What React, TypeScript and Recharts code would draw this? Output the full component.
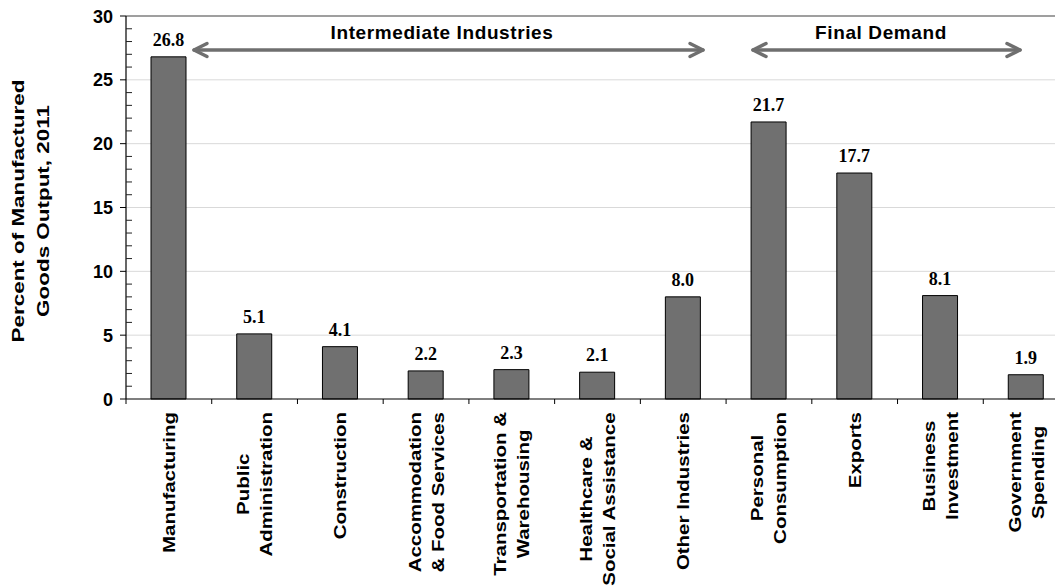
import React from "react";
import { BarChart, Bar, XAxis, YAxis, CartesianGrid, ReferenceLine, LabelList } from "recharts";

// Categories (line breaks mark the wrapped axis labels)
const categories = [
  "Manufacturing",
  "Public\nAdministration",
  "Construction",
  "Accommodation\n& Food Services",
  "Transportation &\nWarehousing",
  "Healthcare &\nSocial Assistance",
  "Other Industries",
  "Personal\nConsumption",
  "Exports",
  "Business\nInvestment",
  "Government\nSpending",
];

// Percent of manufactured goods output, 2011
const shares = [26.8, 5.1, 4.1, 2.2, 2.3, 2.1, 8.0, 21.7, 17.7, 8.1, 1.9];

const yTicks = Array.from({ length: 31 }, (_, i) => i);
const gridValues = [5, 10, 15, 20, 25];
const yAxisTitle = ["Percent  of Manufactured", "Goods  Output, 2011"];
const groupTitles = ["Intermediate  Industries", "Final  Demand"];

const data = categories.map((name, i) => ({ name, value: shares[i] }));

const SANS = "'Liberation Sans', Arial, sans-serif";
const SERIF = "'Liberation Serif', 'Times New Roman', serif";
const LABEL_FONT_SIZE = 16;
const LABEL_STRETCH = 1.28;

let measureCtx: CanvasRenderingContext2D | null = null;
function textWidth(s: string, size: number): number {
  if (!measureCtx) {
    const c = document.createElement("canvas");
    measureCtx = c.getContext("2d");
  }
  if (!measureCtx) return s.length * size * 0.6;
  measureCtx.font = `bold ${size}px 'Liberation Sans', Arial, sans-serif`;
  return measureCtx.measureText(s).width;
}

const X_TICK_SIZE = 5;
const X_TICK_MARGIN = 8;

function CategoryTick(props: any) {
  const { x, y, payload, index } = props;
  const half = payload && payload.offset ? payload.offset : 42.86;
  const axisY = y - X_TICK_SIZE - X_TICK_MARGIN;
  const lines = String(payload.value).split("\n");
  const lens = lines.map((l) => textWidth(l, LABEL_FONT_SIZE) * LABEL_STRETCH);
  const longest = Math.max(...lens);
  const mid = y + longest / 2;
  const n = lines.length;
  return (
    <g>
      {index === 0 && (
        <line x1={x - half} x2={x - half} y1={axisY} y2={axisY + 5} stroke="#000" strokeWidth={1} />
      )}
      <line x1={x + half} x2={x + half} y1={axisY} y2={axisY + 5} stroke="#000" strokeWidth={1} />
      {lines.map((line, i) => {
        const lx = x + (i - (n - 1) / 2) * 23 + 6;
        return (
          <text
            key={i}
            transform={`translate(${lx},${mid}) rotate(-90) scale(${LABEL_STRETCH},1)`}
            textAnchor="middle"
            fontFamily={SANS}
            fontWeight="bold"
            fontSize={LABEL_FONT_SIZE}
            fill="#000"
          >
            {line}
          </text>
        );
      })}
    </g>
  );
}

const Y_TICK_SIZE = 6;
const Y_TICK_MARGIN = 4;

function ValueTick(props: any) {
  const { x, y, payload } = props;
  const axisX = x + Y_TICK_SIZE + Y_TICK_MARGIN;
  const v = Number(payload.value);
  if (v % 5 === 0) {
    return (
      <g>
        <line x1={axisX - 6} x2={axisX} y1={y} y2={y} stroke="#000" strokeWidth={1} />
        <text x={axisX - 13} y={y + 6.5} textAnchor="end" fontFamily={SANS} fontWeight="bold" fontSize={18} fill="#000">
          {v}
        </text>
      </g>
    );
  }
  return <line x1={axisX} x2={axisX + 6} y1={y} y2={y} stroke="#222" strokeWidth={1} />;
}

function Arrow({ x1, x2, y }: { x1: number; x2: number; y: number }) {
  const c = "#6f6f6f";
  return (
    <g stroke={c} strokeWidth={3.5} fill="none" strokeLinecap="round" strokeLinejoin="round">
      <line x1={x1} x2={x2} y1={y} y2={y} />
      <polyline points={`${x1 + 13},${y - 6.5} ${x1},${y} ${x1 + 13},${y + 6.5}`} />
      <polyline points={`${x2 - 13},${y - 6.5} ${x2},${y} ${x2 - 13},${y + 6.5}`} />
    </g>
  );
}

export default function App() {
  return (
    <div
      style={{
        position: "absolute",
        left: 0,
        top: 0,
        width: 1055,
        height: 586,
        overflow: "hidden",
        background: "#fff",
      }}
    >
      <BarChart width={1080} height={586} data={data} margin={{ top: 16, right: 11, left: 0, bottom: 0 }}>
        <CartesianGrid vertical={false} horizontalValues={gridValues} stroke="#d9d9d9" strokeWidth={1} />
        <ReferenceLine y={30} stroke="#7f7f7f" strokeWidth={1.5} />
        <XAxis
          dataKey="name"
          interval={0}
          height={187}
          tickLine={false}
          tickSize={X_TICK_SIZE}
          tickMargin={X_TICK_MARGIN}
          axisLine={{ stroke: "#000", strokeWidth: 1.2 }}
          tick={<CategoryTick />}
        />
        <YAxis
          width={126}
          domain={[0, 30]}
          ticks={yTicks}
          interval={0}
          allowDecimals={false}
          tickLine={false}
          tickSize={Y_TICK_SIZE}
          tickMargin={Y_TICK_MARGIN}
          axisLine={{ stroke: "#000", strokeWidth: 1.2 }}
          tick={<ValueTick />}
        />
        <Bar dataKey="value" fill="#707070" stroke="#000" strokeWidth={1} barSize={35} isAnimationActive={false}>
          <LabelList
            dataKey="value"
            position="top"
            offset={11}
            formatter={(v: any) => Number(v).toFixed(1)}
            style={{ fontFamily: SERIF, fontWeight: "bold", fontSize: 18, fill: "#000" }}
          />
        </Bar>
      </BarChart>
      <svg
        width={1055}
        height={586}
        style={{ position: "absolute", left: 0, top: 0, pointerEvents: "none" }}
      >
        {yAxisTitle.map((line, i) => (
          <text
            key={i}
            transform={`translate(${24 + i * 25},211) rotate(-90) scale(1.32,1)`}
            textAnchor="middle"
            fontFamily={SANS}
            fontWeight="bold"
            fontSize={17}
            fill="#000"
          >
            {line}
          </text>
        ))}
        <text x={442} y={39} textAnchor="middle" fontFamily={SANS} fontWeight="bold" fontSize={19} letterSpacing={0.6} fill="#000">
          {groupTitles[0]}
        </text>
        <Arrow x1={194} x2={703} y={50} />
        <text x={881} y={39} textAnchor="middle" fontFamily={SANS} fontWeight="bold" fontSize={19} letterSpacing={0.6} fill="#000">
          {groupTitles[1]}
        </text>
        <Arrow x1={753} x2={1020} y={50} />
      </svg>
    </div>
  );
}
